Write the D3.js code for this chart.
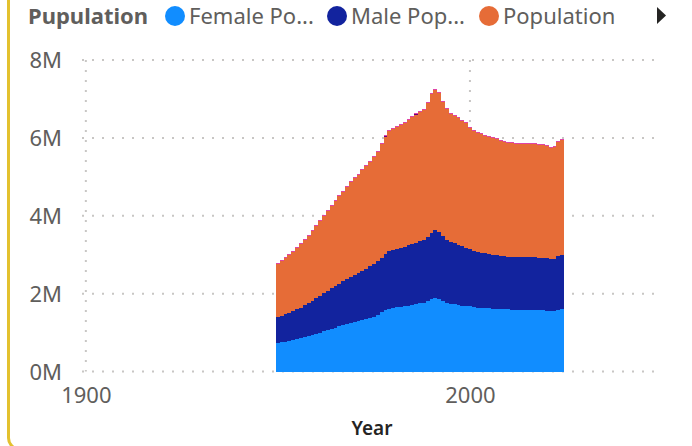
<!DOCTYPE html>
<html>
<head>
<meta charset="utf-8">
<script src="https://cdn.jsdelivr.net/npm/d3@7"></script>
<style>
html, body { margin: 0; padding: 0; background: #fff; overflow: hidden; }
svg { display: block; font-family: "Noto Sans", sans-serif; }
</style>
</head>
<body>
<svg id="chart" width="692" height="446"></svg>
<script>
// values in millions, one per year 1950..2024
var years = d3.range(1950, 2025);

var female = [
  0.73, 0.76, 0.76, 0.78, 0.81, 0.83, 0.86, 0.89, 0.91, 0.94,
  0.96, 0.99, 1.04, 1.07, 1.09, 1.12, 1.17, 1.19, 1.22, 1.25,
  1.27, 1.30, 1.32, 1.35, 1.37, 1.40, 1.45, 1.53, 1.58, 1.61,
  1.63, 1.66, 1.66, 1.68, 1.68, 1.71, 1.73, 1.76, 1.76, 1.81,
  1.86, 1.89, 1.86, 1.81, 1.76, 1.73, 1.73, 1.71, 1.68, 1.68,
  1.68, 1.66, 1.63, 1.63, 1.63, 1.63, 1.61, 1.61, 1.61, 1.61,
  1.61, 1.58, 1.58, 1.58, 1.58, 1.58, 1.58, 1.58, 1.58, 1.58,
  1.55, 1.55, 1.55, 1.58, 1.61
];

var male = [
  0.67, 0.66, 0.72, 0.72, 0.74, 0.78, 0.77, 0.82, 0.85, 0.87,
  0.93, 0.95, 0.98, 1.00, 1.05, 1.08, 1.08, 1.13, 1.16, 1.18,
  1.21, 1.23, 1.26, 1.28, 1.34, 1.36, 1.39, 1.38, 1.44, 1.48,
  1.49, 1.49, 1.51, 1.52, 1.57, 1.56, 1.57, 1.59, 1.62, 1.64,
  1.70, 1.74, 1.72, 1.67, 1.62, 1.60, 1.57, 1.54, 1.54, 1.49,
  1.47, 1.43, 1.44, 1.41, 1.41, 1.39, 1.38, 1.38, 1.36, 1.36,
  1.33, 1.36, 1.36, 1.36, 1.36, 1.36, 1.36, 1.36, 1.33, 1.33,
  1.36, 1.34, 1.34, 1.39, 1.38
];

var population = [
  1.37, 1.41, 1.43, 1.49, 1.52, 1.57, 1.64, 1.67, 1.72, 1.80,
  1.85, 1.93, 1.98, 2.06, 2.12, 2.18, 2.26, 2.30, 2.36, 2.44,
  2.49, 2.51, 2.59, 2.65, 2.68, 2.75, 2.80, 2.94, 3.00, 3.08,
  3.11, 3.13, 3.17, 3.19, 3.21, 3.27, 3.28, 3.32, 3.34, 3.45,
  3.57, 3.60, 3.58, 3.44, 3.36, 3.29, 3.27, 3.27, 3.22, 3.20,
  3.11, 3.09, 3.06, 3.06, 3.01, 3.01, 3.01, 2.99, 2.95, 2.93,
  2.93, 2.93, 2.91, 2.91, 2.91, 2.91, 2.91, 2.91, 2.91, 2.91,
  2.88, 2.85, 2.88, 2.93, 2.96
];

// the two series hidden behind the legend arrow, only a sliver on top
var seriesFour = [
  0, 0, 0, 0, 0, 0, 0, 0, 0, 0,
  0, 0, 0, 0, 0, 0, 0, 0, 0, 0,
  0, 0, 0, 0, 0, 0, 0, 0, 0.03, 0,
  0, 0, 0, 0, 0, 0, 0.03, 0, 0, 0,
  0, 0, 0, 0, 0, 0, 0, 0, 0, 0,
  0, 0, 0, 0, 0, 0, 0, 0, 0, 0,
  0, 0, 0, 0, 0, 0, 0, 0, 0, 0,
  0, 0, 0, 0, 0
];
var seriesFive = [
  0.025, 0.025, 0.025, 0.025, 0.025, 0.025, 0.025, 0.025, 0.025, 0.025,
  0.025, 0.025, 0.025, 0.025, 0.025, 0.025, 0.025, 0.025, 0.025, 0.025,
  0.025, 0.025, 0.025, 0.025, 0.025, 0.025, 0.025, 0.025, 0.025, 0.025,
  0.025, 0.025, 0.025, 0.025, 0.025, 0.025, 0.025, 0.025, 0.025, 0.025,
  0.025, 0.025, 0.025, 0.025, 0.025, 0.025, 0.025, 0.025, 0.025, 0.025,
  0.025, 0.025, 0.025, 0.025, 0.025, 0.025, 0.025, 0.025, 0.025, 0.025,
  0.025, 0.025, 0.025, 0.025, 0.025, 0.025, 0.025, 0.025, 0.025, 0.025,
  0.025, 0.025, 0.025, 0.025, 0.025
];

var legendTitle = "Pupulation";
var legendLabels = ["Female Po...", "Male Pop...", "Population"];
var yTicks = [0, 2, 4, 6, 8];
var xTicks = [1900, 2000];
var xTitle = "Year";

var keys = ["female", "male", "population", "four", "five"];
var colors = ["#118DFF", "#12239E", "#E66C37", "#6B007B", "#E044A7"];

var rows = years.map(function (yr, i) {
  return { year: yr, female: female[i], male: male[i], population: population[i],
           four: seriesFour[i], five: seriesFive[i] };
});

var svg = d3.select("#chart");

// visual border (yellow, rounded)
svg.append("rect")
  .attr("x", 8.5).attr("y", -20)
  .attr("width", 800).attr("height", 469)
  .attr("rx", 11)
  .attr("fill", "none")
  .attr("stroke", "#E3C12E")
  .attr("stroke-width", 3);

var x = d3.scaleLinear().domain([1899, 2050]).range([82, 662]);
var y = d3.scaleLinear().domain([0, 8]).range([371.5, 60]);

// gridlines
var grid = svg.append("g");
grid.selectAll("line.h")
  .data(yTicks)
  .enter().append("line")
  .attr("class", "h")
  .attr("x1", x.range()[0]).attr("x2", x.range()[1])
  .attr("y1", function (d) { return y(d); })
  .attr("y2", function (d) { return y(d); })
  .attr("stroke", "#C8C6C4")
  .attr("stroke-width", 2)
  .attr("stroke-dasharray", "2 8");

grid.selectAll("line.v")
  .data(xTicks)
  .enter().append("line")
  .attr("class", "v")
  .attr("x1", function (d) { return x(d); })
  .attr("x2", function (d) { return x(d); })
  .attr("y1", y(8)).attr("y2", y(0))
  .attr("stroke", "#C8C6C4")
  .attr("stroke-width", 2)
  .attr("stroke-dasharray", "2 8");

// stacked bars
var stack = d3.stack().keys(keys)(rows);
var bw = x(1) - x(0);

svg.append("g")
  .selectAll("g")
  .data(stack)
  .enter().append("g")
  .attr("fill", function (d, i) { return colors[i]; })
  .selectAll("rect")
  .data(function (d) { return d; })
  .enter().append("rect")
  .attr("x", function (d) { return x(d.data.year) - bw / 2; })
  .attr("width", bw)
  .attr("y", function (d) { return y(d[1]); })
  .attr("height", function (d) { return y(d[0]) - y(d[1]); })
  .attr("shape-rendering", "crispEdges");

// y axis labels
var yAxis = svg.append("g")
  .attr("transform", "translate(62,0)")
  .call(d3.axisLeft(y).tickValues(yTicks).tickSize(0).tickPadding(0)
    .tickFormat(function (d) { return d + "M"; }));
yAxis.select(".domain").remove();
yAxis.selectAll("text")
  .attr("fill", "#605E5C")
  .style("font-size", "22px")
  .style("font-family", "Noto Sans")
  .attr("dy", "0.36em");

// x axis labels
var xAxis = svg.append("g")
  .attr("transform", "translate(0,387)")
  .call(d3.axisBottom(x).tickValues(xTicks).tickSize(0).tickPadding(0)
    .tickFormat(d3.format("d")));
xAxis.select(".domain").remove();
xAxis.selectAll("text")
  .attr("fill", "#605E5C")
  .style("font-size", "22px")
  .style("font-family", "Noto Sans")
  .attr("dy", "0.71em");

svg.append("text")
  .attr("x", (x.range()[0] + x.range()[1]) / 2)
  .attr("y", 435)
  .attr("text-anchor", "middle")
  .attr("fill", "#252423")
  .style("font-size", "19px")
  .style("font-weight", "600")
  .text(xTitle);

// legend
var legend = svg.append("g");
legend.append("text")
  .attr("x", 28).attr("y", 24)
  .attr("fill", "#605E5C")
  .style("font-size", "22px")
  .style("font-weight", "bold")
  .text(legendTitle);

var legendX = [165, 327, 479];   // left edge of each legend marker
legendLabels.forEach(function (lab, i) {
  legend.append("circle")
    .attr("cx", legendX[i] + 10).attr("cy", 16).attr("r", 10)
    .attr("fill", colors[i]);
  legend.append("text")
    .attr("x", legendX[i] + 24).attr("y", 24)
    .attr("fill", "#605E5C")
    .style("font-size", "22px")
    .text(lab);
});

legend.append("path")
  .attr("d", "M657,7L666,15.5L657,24Z")
  .attr("fill", "#252423");
</script>
</body>
</html>
